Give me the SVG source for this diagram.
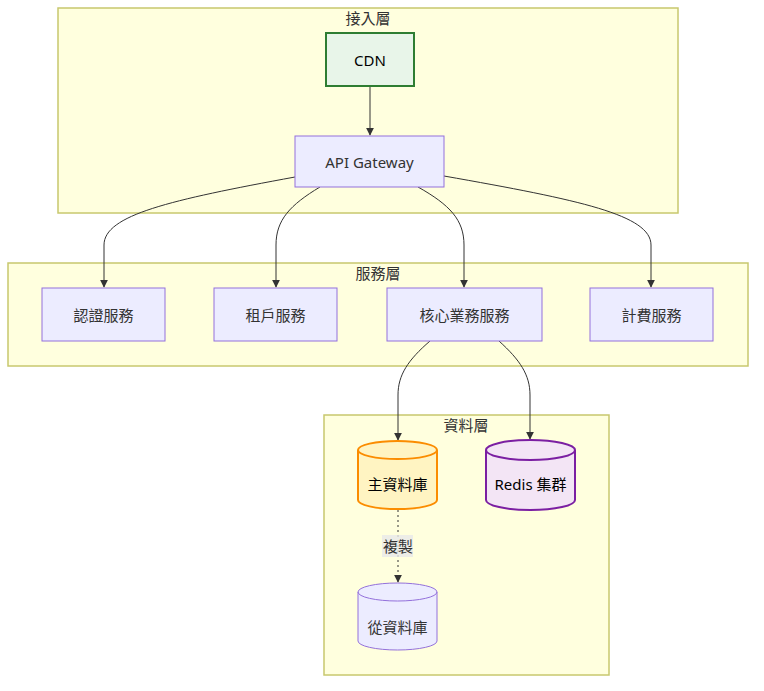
<svg xmlns="http://www.w3.org/2000/svg" width="764" height="691" viewBox="0 0 764 691">
<defs>
<style>
.cluster{fill:#ffffde;stroke:#c8c86e;stroke-width:1.5}
.ctitle{font-family:"Noto Sans","Noto Sans CJK TC",sans-serif;font-size:15px;fill:#333;text-anchor:middle}
.node{fill:#ececff;stroke:#9370db;stroke-width:1}
.lbl{font-family:"Noto Sans","Noto Sans CJK TC",sans-serif;font-size:15px;fill:#333;text-anchor:middle;dominant-baseline:central}
.edge{fill:none;stroke:#333;stroke-width:1}
</style>
<marker id="arr" viewBox="0 0 10 10" refX="9" refY="5" markerWidth="8" markerHeight="8" orient="auto"><path d="M0,0 L10,5 L0,10 z" fill="#333"/></marker>
</defs>
<rect width="764" height="691" fill="#fff"/>
<g id="cluster-access"><rect class="cluster" x="58" y="8" width="620" height="205"/><text class="ctitle" x="368" y="24">接入層</text></g>
<g id="cluster-service"><rect class="cluster" x="8" y="263" width="740" height="103"/><text class="ctitle" x="378" y="279">服務層</text></g>
<g id="cluster-data"><rect class="cluster" x="324" y="415" width="285" height="260"/><text class="ctitle" x="466" y="431">資料層</text></g>
<g id="edges">
<path class="edge" d="M370,86 L370,135" marker-end="url(#arr)"/>
<path class="edge" d="M295,177 C170,200 104,215 104,245 L104,287" marker-end="url(#arr)"/>
<path class="edge" d="M320,187 C290,205 276,220 276,245 L276,287" marker-end="url(#arr)"/>
<path class="edge" d="M418,187 C450,205 464,220 464,245 L464,287" marker-end="url(#arr)"/>
<path class="edge" d="M444,176 C580,200 651,215 651,245 L651,287" marker-end="url(#arr)"/>
<path class="edge" d="M430,341 C408,360 398,375 398,395 L398,440" marker-end="url(#arr)"/>
<path class="edge" d="M499,341 C520,360 530,375 530,395 L530,439" marker-end="url(#arr)"/>
<path class="edge" d="M398,510 L398,582" stroke-dasharray="2,3" marker-end="url(#arr)"/>
<rect x="382" y="535" width="31" height="22" fill="#e8e8e8" opacity="0.8"/>
<text class="lbl" x="398" y="546">複製</text>
</g>
<g id="node-cdn"><rect x="326" y="33" width="88" height="53" fill="#e8f5e9" stroke="#2e7d32" stroke-width="2"/><text class="lbl" x="370" y="59.5" style="fill:#000">CDN</text></g>
<g id="node-api"><rect class="node" x="295" y="136" width="149" height="51"/><text class="lbl" x="369.5" y="161.5">API Gateway</text></g>
<g id="node-auth"><rect class="node" x="42" y="288" width="123" height="53"/><text class="lbl" x="103.5" y="314.5">認證服務</text></g>
<g id="node-tenant"><rect class="node" x="214" y="288" width="123" height="53"/><text class="lbl" x="275.5" y="314.5">租戶服務</text></g>
<g id="node-core"><rect class="node" x="387" y="288" width="155" height="53"/><text class="lbl" x="464.5" y="314.5">核心業務服務</text></g>
<g id="node-billing"><rect class="node" x="590" y="288" width="123" height="53"/><text class="lbl" x="651.5" y="314.5">計費服務</text></g>
<g id="node-maindb">
<path d="M358,450 A39.5,9 0 0 1 437,450 L437,500 A39.5,9 0 0 1 358,500 Z" fill="#fff4c2" stroke="#fb8c00" stroke-width="2"/>
<path d="M358,450 A39.5,9 0 0 0 437,450" fill="none" stroke="#fb8c00" stroke-width="2"/>
<text class="lbl" x="397.5" y="484" style="fill:#000">主資料庫</text></g>
<g id="node-redis">
<path d="M486,450 A44.5,10 0 0 1 575,450 L575,500 A44.5,10 0 0 1 486,500 Z" fill="#f3e5f5" stroke="#7b1fa2" stroke-width="2"/>
<path d="M486,450 A44.5,10 0 0 0 575,450" fill="none" stroke="#7b1fa2" stroke-width="2"/>
<text class="lbl" x="530.5" y="484" style="fill:#000">Redis 集群</text></g>
<g id="node-replica">
<path d="M358,592 A39.5,9 0 0 1 437,592 L437,641 A39.5,9 0 0 1 358,641 Z" class="node"/>
<path d="M358,592 A39.5,9 0 0 0 437,592" fill="none" stroke="#9370db"/>
<text class="lbl" x="397.5" y="627">從資料庫</text></g>
</svg>
